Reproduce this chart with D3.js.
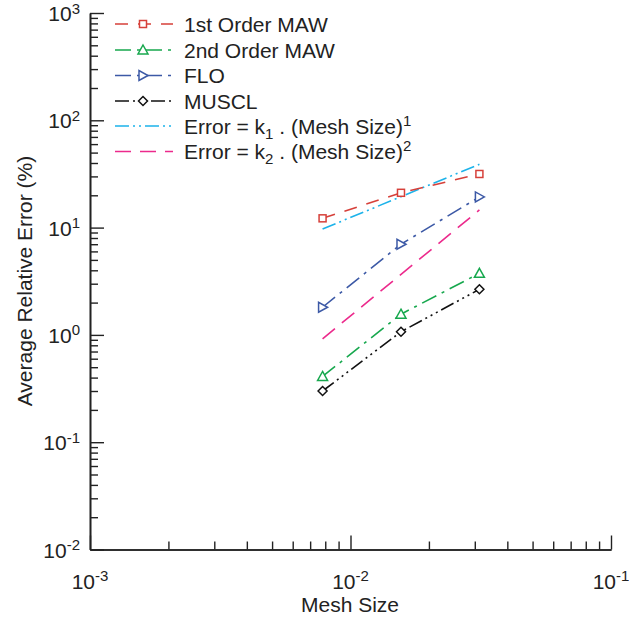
<!DOCTYPE html>
<html>
<head>
<meta charset="utf-8">
<script src="https://cdn.jsdelivr.net/npm/d3@7"></script>
<style>
  html, body { margin: 0; padding: 0; background: #fff; }
  svg { display: block; font-family: "Liberation Sans", Arial, Helvetica, sans-serif; }
</style>
</head>
<body>
<svg id="chart" width="629" height="619"></svg>
<script>
// ---- Data ----
const meshSize = [0.0078125, 0.015625, 0.03125];
const maw1 = [12.2, 21.1, 31.6];
const maw2 = [0.41, 1.56, 3.75];
const flo = [1.81, 7.0, 19.3];
const muscl = [0.30, 1.07, 2.66];
const refMesh = [0.0078125, 0.03125];
const ref1 = [9.7, 38.9];
const ref2 = [0.92, 14.6];
const xTickExps = [-3, -2, -1];
const yTickExps = [-2, -1, 0, 1, 2, 3];
const seriesNames = ["1st Order MAW", "2nd Order MAW", "FLO", "MUSCL"];

// ---- Layout ----
const svg = d3.select("#chart");
const x = d3.scaleLog().domain([1e-3, 1e-1]).range([90, 611]);
const y = d3.scaleLog().domain([1e-2, 1e3]).range([549.5, 13]);
const axisColor = "#222";

function minorTicks(lo, hi) {
  const out = [];
  for (let e = lo; e < hi; e++) for (let m = 2; m <= 9; m++) out.push(m * Math.pow(10, e));
  return out;
}
const xMajor = xTickExps.map(e => Math.pow(10, e));
const yMajor = yTickExps.map(e => Math.pow(10, e));

// Axes (ticks pointing inward)
const gx = svg.append("g").attr("transform", "translate(0,549.5)");
gx.call(d3.axisBottom(x).tickValues(minorTicks(-3, -1)).tickSize(-8).tickFormat("").tickSizeOuter(0));
gx.append("g").call(d3.axisBottom(x).tickValues(xMajor).tickSize(-14).tickFormat("").tickSizeOuter(0));
const gy = svg.append("g").attr("transform", "translate(90,0)");
gy.call(d3.axisLeft(y).tickValues(minorTicks(-2, 3)).tickSize(-8).tickFormat("").tickSizeOuter(0));
gy.append("g").call(d3.axisLeft(y).tickValues(yMajor).tickSize(-14).tickFormat("").tickSizeOuter(0));
svg.selectAll(".domain").attr("stroke", axisColor).attr("stroke-width", 1.6);
svg.selectAll(".tick line").attr("stroke", axisColor).attr("stroke-width", 1.4);

// Tick labels
xTickExps.forEach(e => {
  const t = svg.append("text").attr("x", x(Math.pow(10, e))).attr("y", 589)
    .attr("text-anchor", "middle").attr("font-size", 21).attr("fill", "#222");
  t.append("tspan").text("10");
  t.append("tspan").attr("dy", -8).attr("font-size", 15).text(String(e));
});
yTickExps.forEach(e => {
  const t = svg.append("text").attr("x", 80).attr("y", y(Math.pow(10, e)) + 8)
    .attr("text-anchor", "end").attr("font-size", 21).attr("fill", "#222");
  t.append("tspan").text("10");
  t.append("tspan").attr("dy", -7.5).attr("font-size", 15).text(String(e));
});

// Axis titles
svg.append("text").attr("x", 350).attr("y", 612).attr("text-anchor", "middle")
  .attr("font-size", 21).attr("fill", "#222").text("Mesh Size");
svg.append("text").attr("transform", "translate(32,281) rotate(-90)").attr("text-anchor", "middle")
  .attr("font-size", 21).attr("fill", "#222").text("Average Relative Error (%)");

// Markers
function square(g, cx, cy, c) {
  g.append("rect").attr("x", cx - 3.5).attr("y", cy - 3.5).attr("width", 7).attr("height", 7)
    .attr("fill", "#fff").attr("stroke", c).attr("stroke-width", 1.5);
}
function triUp(g, cx, cy, c) {
  g.append("path").attr("d", `M${cx},${cy - 5}L${cx + 5},${cy + 4}L${cx - 5},${cy + 4}Z`)
    .attr("fill", "#fff").attr("stroke", c).attr("stroke-width", 1.5);
}
function triRight(g, cx, cy, c) {
  g.append("path").attr("d", `M${cx + 5},${cy}L${cx - 4},${cy + 5}L${cx - 4},${cy - 5}Z`)
    .attr("fill", "#fff").attr("stroke", c).attr("stroke-width", 1.5);
}
function diamond(g, cx, cy, c) {
  g.append("path").attr("d", `M${cx},${cy - 4.5}L${cx + 4.5},${cy}L${cx},${cy + 4.5}L${cx - 4.5},${cy}Z`)
    .attr("fill", "#fff").attr("stroke", c).attr("stroke-width", 1.5);
}

const styles = [
  { name: seriesNames[0], vals: maw1, color: "#d6403a", dash: "13,10", marker: square },
  { name: seriesNames[1], vals: maw2, color: "#17a84e", dash: "16,6,3,6", marker: triUp },
  { name: seriesNames[2], vals: flo, color: "#3c59a6", dash: "16,6,3,6", marker: triRight },
  { name: seriesNames[3], vals: muscl, color: "#111", dash: "14,4,2,4,2,4,2,4", marker: diamond }
];
const refs = [
  { vals: ref1, color: "#1db3ea", dash: "14,4,2,4,2,4" },
  { vals: ref2, color: "#ec2a8c", dash: "16,9" }
];

const line = d3.line().x(d => x(d[0])).y(d => y(d[1]));
const plot = svg.append("g");
refs.forEach(r => {
  plot.append("path").datum(refMesh.map((m, i) => [m, r.vals[i]])).attr("d", line)
    .attr("fill", "none").attr("stroke", r.color).attr("stroke-width", 1.6).attr("stroke-dasharray", r.dash);
});
styles.forEach(s => {
  plot.append("path").datum(meshSize.map((m, i) => [m, s.vals[i]])).attr("d", line)
    .attr("fill", "none").attr("stroke", s.color).attr("stroke-width", 1.6).attr("stroke-dasharray", s.dash);
  meshSize.forEach((m, i) => s.marker(plot, x(m), y(s.vals[i]), s.color));
});

// Legend
const leg = svg.append("g");
const rowY = [24, 50, 75.5, 101, 126, 151.5];
const legItems = styles.concat(refs);
legItems.forEach((s, i) => {
  const yy = rowY[i];
  leg.append("line").attr("x1", 115).attr("x2", 173).attr("y1", yy).attr("y2", yy)
    .attr("stroke", s.color).attr("stroke-width", 1.6).attr("stroke-dasharray", s.dash);
  if (s.marker) s.marker(leg, 143, yy, s.color);
});
function legText(yy, parts) {
  const t = leg.append("text").attr("x", 184).attr("y", yy + 7.5).attr("font-size", 21).attr("fill", "#222");
  parts.forEach(p => {
    const ts = t.append("tspan").text(p.t);
    if (p.dy) ts.attr("dy", p.dy);
    if (p.fs) ts.attr("font-size", p.fs);
  });
}
seriesNames.forEach((n, i) => legText(rowY[i], [{ t: n }]));
legText(rowY[4], [{ t: "Error = k" }, { t: "1", dy: 5, fs: 15 }, { t: " . (Mesh Size)", dy: -5 }, { t: "1", dy: -8, fs: 15 }]);
legText(rowY[5], [{ t: "Error = k" }, { t: "2", dy: 5, fs: 15 }, { t: " . (Mesh Size)", dy: -5 }, { t: "2", dy: -8, fs: 15 }]);
</script>
</body>
</html>
